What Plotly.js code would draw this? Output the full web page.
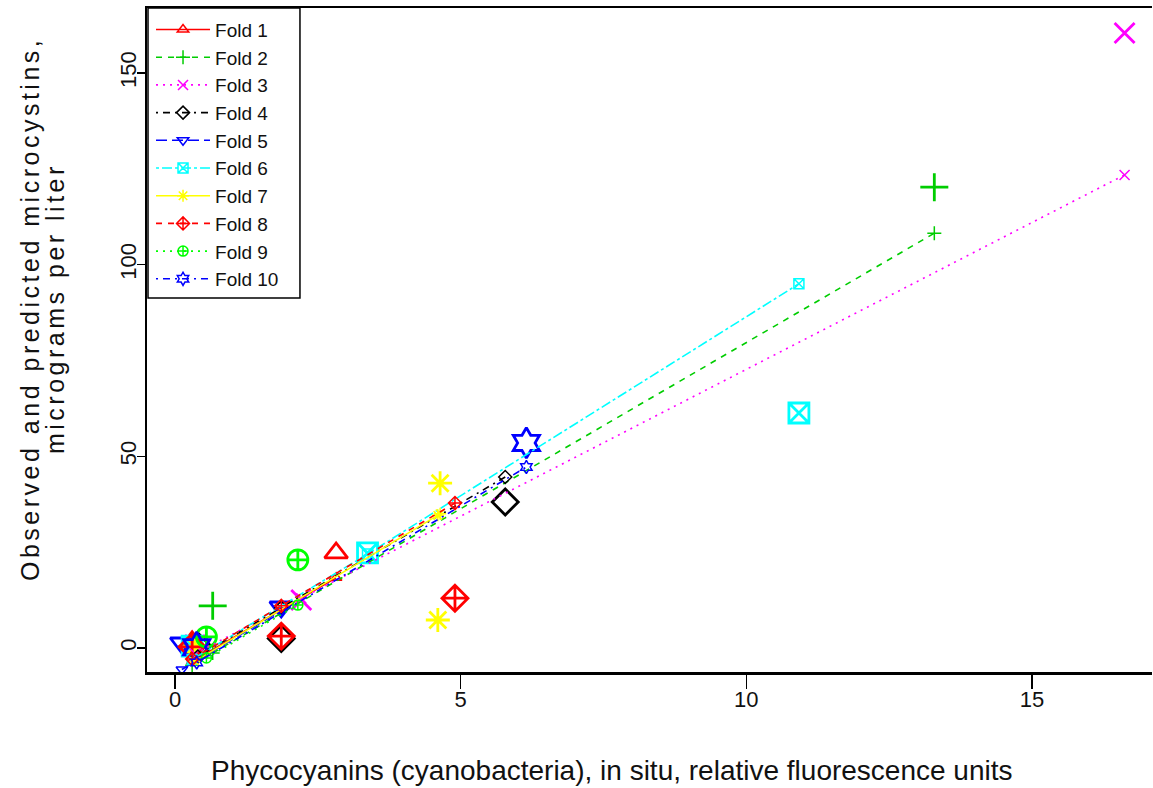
<!DOCTYPE html>
<html><head><meta charset="utf-8">
<script src="https://cdn.plot.ly/plotly-3.0.1.min.js"></script>
<style>
body{margin:0;background:#fff}
#chart{width:1153px;height:788px}
#chart g.annotation[data-index="1"] text, #chart g.annotation[data-index="2"] text{letter-spacing:3.5px}
</style>
</head><body><div id="chart"></div>
<script>
// Fold labels
const foldNames = ['Fold 1','Fold 2','Fold 3','Fold 4','Fold 5','Fold 6','Fold 7','Fold 8','Fold 9','Fold 10'];
// Phycocyanin values (x) for each fold's test points
const foldX = [
  [0.30, 2.82],
  [0.30, 0.66, 13.29],
  [0.35, 2.21, 16.62],
  [0.40, 1.86, 5.78],
  [0.12, 1.86],
  [0.30, 3.37, 10.92],
  [0.35, 4.60, 4.64],
  [0.30, 1.86, 4.90],
  [0.55, 2.15],
  [0.38, 6.15]
];
// Observed microcystins
const foldObserved = [
  [1.6, 24.8],
  [0.3, 11.0, 120.2],
  [0.8, 12.5, 160.4],
  [0.5, 2.5, 38.1],
  [1.3, 10.7],
  [0.5, 24.8, 61.3],
  [0.5, 7.3, 43.0],
  [0.3, 3.1, 13.0],
  [2.9, 23.0],
  [0.2, 53.5]
];
// Predicted microcystins
const foldPredicted = [
  [-3.5, 18.3],
  [-4.5, -1.3, 108.2],
  [-1.5, 13.0, 123.4],
  [-2.2, 10.5, 44.6],
  [-5.6, 9.8],
  [-3.0, 24.5, 95.0],
  [-3.5, 34.6, 35.0],
  [-2.9, 11.0, 37.8],
  [-2.6, 11.2],
  [-3.8, 47.2]
];
const xTicks = [0, 5, 10, 15];
const yTicks = [0, 50, 100, 150];
const xTitle = 'Phycocyanins (cyanobacteria), in situ, relative fluorescence units';
const yTitleLines = ['Observed and predicted microcystins,', 'micrograms per liter'];

// styles
const foldColors = ['#FF0000','#00CD00','#FF00FF','#000000','#0000FF','#00FFFF','#FFFF00','#FF0000','#00FF00','#0000FF'];
const foldSymbols = ['triangle-up-open','cross-thin-open','x-thin-open','diamond-open','triangle-down-open','square-x-open','asterisk-open','diamond-cross-open','circle-cross-open','hexagram-open'];
const foldDashes = ['solid','6px,6px','2px,5px','2px,5px,7px,5px','11px,5px','3px,3px,10px,3px','solid','6px,6px','2px,5px','2px,5px,7px,5px'];
const bigSizes = [20, 20, 20, 20, 20, 20, 20, 20, 20, 23];

const font = 'Liberation Sans, Arial, sans-serif';
const traces = [];
foldNames.forEach((name, i) => {
  traces.push({
    type: 'scatter', mode: 'markers', x: foldX[i], y: foldObserved[i],
    name: name, showlegend: false, hoverinfo: 'x+y',
    marker: {symbol: foldSymbols[i], size: bigSizes[i], color: foldColors[i], line: {color: foldColors[i], width: 2.8}}
  });
});
foldNames.forEach((name, i) => {
  const idx = foldX[i].map((v, k) => k).sort((a, b) => foldX[i][a] - foldX[i][b]);
  traces.push({
    type: 'scatter', mode: 'lines+markers',
    x: idx.map(k => foldX[i][k]), y: idx.map(k => foldPredicted[i][k]),
    name: name,
    line: {color: foldColors[i], width: 1.6, dash: foldDashes[i]},
    marker: {symbol: foldSymbols[i], size: 10, color: foldColors[i], line: {color: foldColors[i], width: 1.5}}
  });
});

const layout = {
  width: 1153, height: 788,
  margin: {l: 147, r: 1, t: 8, b: 116},
  paper_bgcolor: '#fff', plot_bgcolor: '#fff',
  font: {family: font, color: '#000', size: 21},
  showlegend: true,
  legend: {x: 0.004, y: 0.996, xanchor: 'left', yanchor: 'top', bgcolor: 'rgba(0,0,0,0)',
           borderwidth: 0, font: {family: font, size: 19, color: '#111'},
           itemwidth: 54},
  shapes: [
    {type: 'rect', xref: 'paper', yref: 'paper', x0: 0.001, x1: 0.1522, y0: 0.5633, y1: 1,
     fillcolor: '#fff', line: {color: '#000', width: 1.5}, layer: 'above'}
  ],
  xaxis: {range: [-0.49, 17.1], tickvals: xTicks, ticktext: xTicks.map(String),
          ticks: 'outside', ticklen: 14, tickwidth: 1.5, tickcolor: '#000', ticklabelstandoff: -8,
          showline: true, linewidth: 2.5, linecolor: '#000', mirror: true,
          showgrid: false, zeroline: false, tickfont: {family: font, size: 22, color: '#111'}},
  yaxis: {range: [-6.26, 166.94], tickvals: yTicks, ticktext: yTicks.map(String), tickangle: -90,
          ticks: 'outside', ticklen: 8, tickwidth: 1.5, tickcolor: '#000', ticklabelstandoff: -8,
          showline: true, linewidth: 2.5, linecolor: '#000',
          showgrid: false, zeroline: false, tickfont: {family: font, size: 22, color: '#111'}},
  annotations: [
    {xref: 'paper', yref: 'paper', x: 0.4627, y: -0.1476, xanchor: 'center', yanchor: 'middle',
     showarrow: false, text: xTitle, font: {family: font, size: 28, color: '#111'}},
    {xref: 'paper', yref: 'paper', x: -0.1164, y: 0.5467, xanchor: 'center', yanchor: 'middle',
     showarrow: false, textangle: -90, text: yTitleLines[0], font: {family: font, size: 25, color: '#111'}},
    {xref: 'paper', yref: 'paper', x: -0.0915, y: 0.5467, xanchor: 'center', yanchor: 'middle',
     showarrow: false, textangle: -90, text: yTitleLines[1], font: {family: font, size: 25, color: '#111'}}
  ]
};
Plotly.newPlot('chart', traces, layout, {displayModeBar: false, staticPlot: true});
</script></body></html>
